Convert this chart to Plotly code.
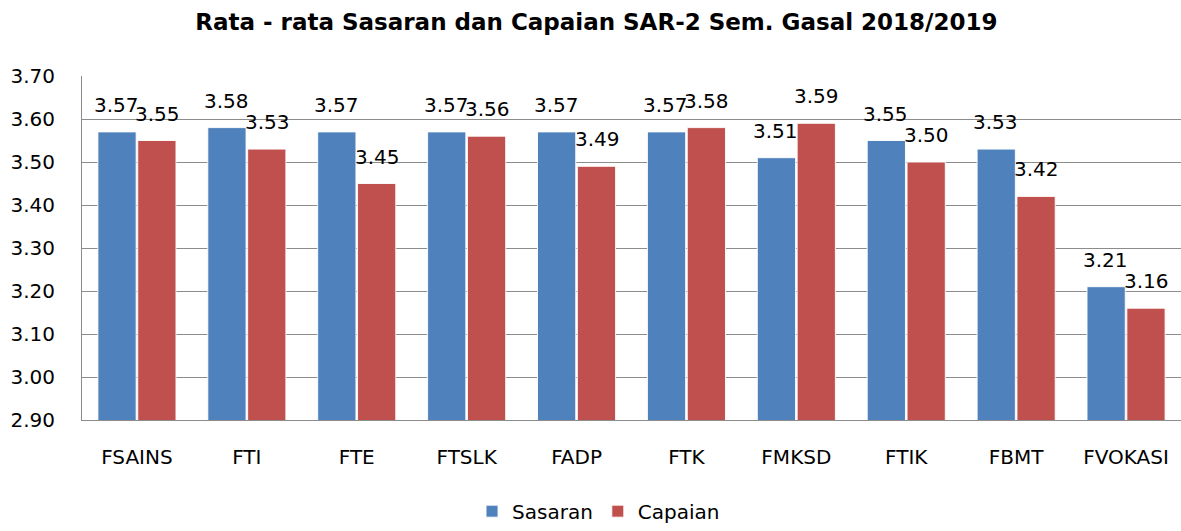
import plotly.graph_objects as go

categories = ["FSAINS", "FTI", "FTE", "FTSLK", "FADP", "FTK", "FMKSD", "FTIK", "FBMT", "FVOKASI"]
sasaran = [3.57, 3.58, 3.57, 3.57, 3.57, 3.57, 3.51, 3.55, 3.53, 3.21]
capaian = [3.55, 3.53, 3.45, 3.56, 3.49, 3.58, 3.59, 3.50, 3.42, 3.16]
y_ticks = [2.90, 3.00, 3.10, 3.20, 3.30, 3.40, 3.50, 3.60, 3.70]

BLUE = "#4F81BD"
RED = "#C0504D"
FONT = "DejaVu Sans"

fig = go.Figure()
fig.add_trace(go.Bar(name="Sasaran", x=categories, y=sasaran, marker=dict(color=BLUE, line=dict(color="rgba(255,255,255,0.9)", width=1))))
fig.add_trace(go.Bar(name="Capaian", x=categories, y=capaian, marker=dict(color=RED, line=dict(color="rgba(255,255,255,0.9)", width=1))))

annotations = []
for series, shift in ((sasaran, -20.5), (capaian, 20.5)):
    for c, v in zip(categories, series):
        annotations.append(dict(x=c, y=v, xref="x", yref="y", text=f"{v:.2f}", showarrow=False,
                                xanchor="center", yanchor="bottom", xshift=shift, yshift=13,
                                font=dict(family=FONT, size=20, color="#000000")))

fig.update_layout(
    width=1181, height=531, autosize=False,
    margin=dict(l=82, r=0, t=76, b=100),
    paper_bgcolor="white", plot_bgcolor="white",
    barmode="group", bargap=0.275, bargroupgap=0.04,
    title=dict(text="<b>Rata - rata Sasaran dan Capaian SAR-2 Sem. Gasal 2018/2019</b>",
               x=0.505, xanchor="center", y=1 - 22 / 531, yanchor="middle",
               font=dict(family=FONT, size=23, color="#000000")),
    font=dict(family=FONT, size=20, color="#000000"),
    legend=dict(orientation="h", x=0.47, xanchor="center", y=-0.265, yanchor="middle",
                font=dict(family=FONT, size=20), itemwidth=30, tracegroupgap=0),
    annotations=annotations,
    showlegend=True,
)
fig.update_yaxes(range=[2.9, 3.7], tickvals=y_ticks, tickformat=".2f",
                 showgrid=True, gridcolor="#8C8C8C", gridwidth=1,
                 showline=True, linecolor="#8C8C8C", linewidth=1,
                 ticks="outside", ticklen=22, tickcolor="rgba(0,0,0,0)",
                 tickfont=dict(family=FONT, size=20), zeroline=False, automargin=False)
fig.update_xaxes(showline=True, linecolor="#8C8C8C", linewidth=1,
                 ticks="outside", ticklen=19, tickcolor="rgba(0,0,0,0)",
                 tickfont=dict(family=FONT, size=20), automargin=False)

fig.write_html("out.html",
               config={"responsive": False, "displayModeBar": False, "staticPlot": True},
               post_script="document.body.style.margin='0';document.body.style.overflow='hidden';")
